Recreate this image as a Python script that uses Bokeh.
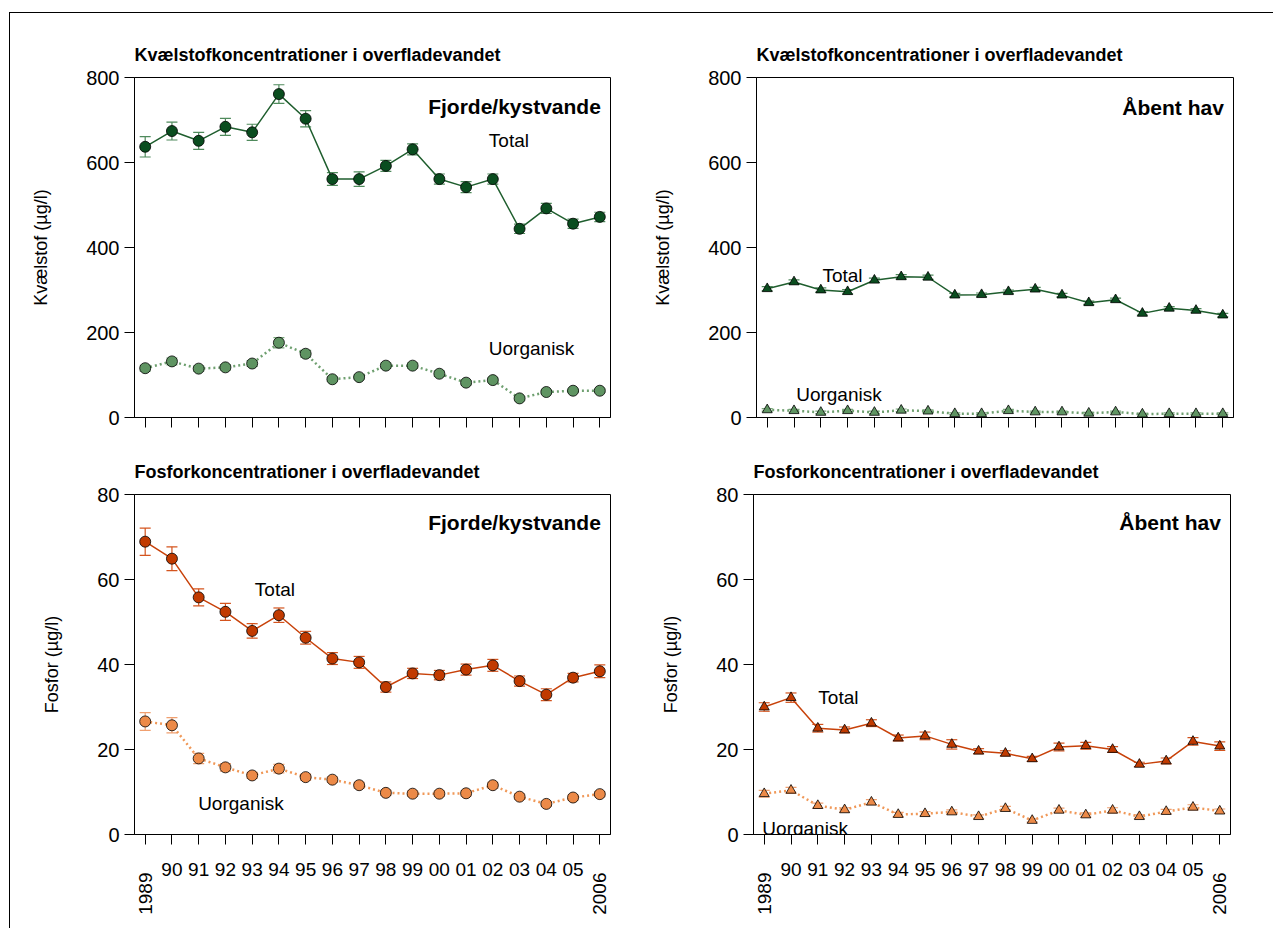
import math
from bokeh.plotting import figure
from bokeh.models import ColumnDataSource, Range1d, FixedTicker, Whisker, TeeHead, Label
from bokeh.core.properties import value
from bokeh.layouts import column, row
from bokeh.embed import file_html
from bokeh.resources import INLINE

# ---------------- data ----------------
years = list(range(1989, 2007))
x_tick_labels = ["1989", "90", "91", "92", "93", "94", "95", "96", "97", "98", "99",
                 "00", "01", "02", "03", "04", "05", "2006"]
n_ticks = [0, 200, 400, 600, 800]
p_ticks = [0, 20, 40, 60, 80]

# Kvaelstof, fjorde/kystvande
n_fjord_total = [637, 674, 651, 684, 671, 761, 703, 561, 561, 592, 631, 561, 542, 561, 444, 492, 456, 472]
n_fjord_total_err = [24, 21, 20, 20, 19, 22, 19, 15, 17, 13, 13, 12, 13, 12, 11, 12, 11, 11]
n_fjord_uorg = [116, 132, 115, 118, 127, 176, 150, 90, 95, 122, 122, 103, 82, 88, 45, 60, 63, 63]
n_fjord_uorg_err = [7, 8, 6, 6, 7, 12, 8, 5, 5, 6, 6, 6, 5, 5, 4, 4, 4, 4]

# Kvaelstof, aabent hav
n_open_total = [303, 319, 300, 296, 323, 331, 330, 288, 289, 296, 302, 288, 270, 277, 245, 257, 252, 241]
n_open_total_err = [5, 5, 5, 5, 5, 5, 5, 4, 4, 4, 4, 4, 4, 4, 4, 4, 4, 4]
n_open_uorg = [18, 16, 12, 16, 12, 17, 15, 9, 9, 16, 13, 13, 10, 13, 8, 9, 9, 9]
n_open_uorg_err = [3, 3, 3, 3, 3, 3, 3, 2, 2, 3, 2, 2, 2, 2, 2, 2, 2, 2]

# Fosfor, fjorde/kystvande
p_fjord_total = [68.9, 64.9, 55.8, 52.4, 47.9, 51.6, 46.3, 41.4, 40.5, 34.7, 37.9, 37.5, 38.8, 39.8, 36.1, 32.9, 36.9, 38.4]
p_fjord_total_err = [3.2, 2.8, 2.0, 2.0, 1.7, 1.7, 1.5, 1.4, 1.4, 1.2, 1.2, 1.1, 1.3, 1.4, 1.2, 1.4, 1.0, 1.5]
p_fjord_uorg = [26.6, 25.7, 17.9, 15.8, 13.9, 15.5, 13.5, 12.9, 11.6, 9.8, 9.6, 9.6, 9.7, 11.6, 8.9, 7.2, 8.7, 9.5]
p_fjord_uorg_err = [2.1, 1.8, 1.2, 0.9, 0.7, 1.0, 0.7, 0.6, 0.7, 0.6, 0.6, 0.6, 0.6, 0.7, 0.6, 0.5, 0.6, 0.6]

# Fosfor, aabent hav
p_open_total = [30.0, 32.2, 25.0, 24.6, 26.2, 22.7, 23.2, 21.2, 19.6, 19.1, 17.8, 20.6, 20.9, 20.0, 16.5, 17.3, 21.9, 20.8]
p_open_total_err = [1.0, 1.1, 0.9, 0.7, 0.8, 0.7, 0.9, 1.1, 0.6, 0.6, 0.6, 0.9, 0.8, 0.7, 0.5, 0.7, 0.9, 1.0]
p_open_uorg = [9.6, 10.4, 6.8, 5.8, 7.6, 4.7, 4.9, 5.3, 4.2, 6.1, 3.3, 5.7, 4.6, 5.7, 4.2, 5.4, 6.4, 5.5]
p_open_uorg_err = [0.8, 0.7, 0.6, 0.5, 0.6, 0.5, 0.5, 0.5, 0.4, 0.5, 0.4, 0.5, 0.5, 0.6, 0.4, 0.5, 0.6, 0.5]

# ---------------- styles ----------------
FONT = "Liberation Sans"
N_TOT = dict(fill="#0a4d1f", line="#1f5e2e", err="#4f8a5c", dash="solid", lw=1.5)
N_UOR = dict(fill="#5f9462", line="#6fa070", err="#7aa87c", dash="2 3", lw=2.5)
P_TOT = dict(fill="#c13a00", line="#c8420a", err="#d4541e", dash="solid", lw=1.5)
P_UOR = dict(fill="#ec8a48", line="#f09858", err="#f0a070", dash="2 3", lw=2.5)
X_RANGE = (1988.6, 2006.4)


def panel(title, ylabel, ymax, yticks, series, marker, texts, region, region_y, mb, fw):
    p = figure(frame_width=fw, frame_height=340,
               x_range=Range1d(*X_RANGE), y_range=Range1d(0, ymax),
               output_backend="svg", toolbar_location=None,
               min_border_left=mb[0], min_border_right=mb[1],
               min_border_top=mb[2], min_border_bottom=mb[3],
               background_fill_color="white", border_fill_color="white")
    p.title.text = title
    p.title.text_font = FONT
    p.title.text_font_size = "18px"
    p.title.text_font_style = "bold"
    p.title.text_color = "black"
    p.title.align = "left"
    p.title.standoff = 26
    p.xgrid.visible = False
    p.ygrid.visible = False
    p.outline_line_color = "black"
    p.outline_line_width = 1
    p.outline_line_alpha = 1

    p.xaxis.ticker = FixedTicker(ticks=years)
    p.yaxis.ticker = FixedTicker(ticks=yticks)
    for ax in (p.xaxis[0], p.yaxis[0]):
        ax.major_tick_out = 10
        ax.major_tick_in = 0
        ax.minor_tick_out = 0
        ax.minor_tick_in = 0
        ax.axis_line_color = "black"
        ax.major_tick_line_color = "black"
        ax.major_label_text_font = FONT
        ax.major_label_text_color = "black"
    p.yaxis.major_label_text_font_size = "20px"
    p.yaxis.major_label_standoff = 5
    p.yaxis.axis_label = ylabel
    p.yaxis.axis_label_text_font = FONT
    p.yaxis.axis_label_text_font_size = "18px"
    p.yaxis.axis_label_text_font_style = "normal"
    p.yaxis.axis_label_text_color = "black"
    p.yaxis.axis_label_standoff = 32
    # tick labels of the x axis are drawn in a separate strip (mixed orientation)
    p.xaxis.major_label_overrides = {y: "" for y in years}
    p.xaxis.major_label_text_font_size = "0px"
    p.xaxis.major_label_standoff = 0

    for vals, errs, st in series:
        src = ColumnDataSource(dict(x=years, y=vals,
                                    upper=[v + e for v, e in zip(vals, errs)],
                                    lower=[v - e for v, e in zip(vals, errs)]))
        w = Whisker(source=src, base="x", upper="upper", lower="lower",
                    line_color=st["err"], line_width=1.2,
                    upper_head=TeeHead(size=11, line_color=st["err"], line_width=1.2),
                    lower_head=TeeHead(size=11, line_color=st["err"], line_width=1.2))
        p.add_layout(w)
        p.line("x", "y", source=src, line_color=st["line"], line_width=st["lw"],
               line_dash=st["dash"])
        p.scatter("x", "y", source=src, marker=marker, size=11 if marker == "circle" else 10,
                  fill_color=st["fill"], line_color="black", line_width=0.8)

    for tx, x, y in texts:
        p.add_layout(Label(x=x, y=y, text=tx, text_font=FONT, text_font_size="19px",
                           text_align="left", text_baseline="middle", text_color="black"))
    p.add_layout(Label(x=2006.04, y=region_y, text=region, text_font=FONT,
                       text_font_size="21px", text_font_style="bold",
                       text_align="right", text_baseline="middle", text_color="black"))
    return p


def tick_strip(mb_left, mb_right, fw):
    f = figure(frame_width=fw, frame_height=82,
               x_range=Range1d(*X_RANGE), y_range=Range1d(0, 82),
               x_axis_type=None, y_axis_type=None,
               output_backend="svg", toolbar_location=None,
               min_border_left=mb_left, min_border_right=mb_right,
               min_border_top=0, min_border_bottom=0,
               background_fill_color="white", border_fill_color="white")
    f.outline_line_color = None
    mid_x = years[1:-1]
    f.text(x=mid_x, y=[65.6] * len(mid_x), text=x_tick_labels[1:-1],
           text_font=value(FONT), text_font_size="19px", text_color="black",
           text_align="center", text_baseline="top")
    f.text(x=[years[0], years[-1]], y=[56, 56], text=[x_tick_labels[0], x_tick_labels[-1]],
           angle=math.pi / 2, text_font=value(FONT), text_font_size="19px", text_color="black",
           text_align="right", text_baseline="middle")
    return f


p1 = panel("Kvælstofkoncentrationer i overfladevandet", "Kvælstof (µg/l)", 800, n_ticks,
           [(n_fjord_total, n_fjord_total_err, N_TOT), (n_fjord_uorg, n_fjord_uorg_err, N_UOR)],
           "circle", [("Total", 2001.85, 652), ("Uorganisk", 2001.85, 162)],
           "Fjorde/kystvande", 732, (124, 40, 64, 27), 476)
p2 = panel("Kvælstofkoncentrationer i overfladevandet", "Kvælstof (µg/l)", 800, n_ticks,
           [(n_open_total, n_open_total_err, N_TOT), (n_open_uorg, n_open_uorg_err, N_UOR)],
           "triangle", [("Total", 1991.06, 335), ("Uorganisk", 1990.08, 54)],
           "Åbent hav", 730, (103, 41, 64, 27), 477)
p3 = panel("Fosforkoncentrationer i overfladevandet", "Fosfor (µg/l)", 80, p_ticks,
           [(p_fjord_total, p_fjord_total_err, P_TOT), (p_fjord_uorg, p_fjord_uorg_err, P_UOR)],
           "circle", [("Total", 1993.1, 57.6), ("Uorganisk", 1990.98, 7.3)],
           "Fjorde/kystvande", 73.4, (124, 40, 50, 12), 476)
p4 = panel("Fosforkoncentrationer i overfladevandet", "Fosfor (µg/l)", 80, p_ticks,
           [(p_open_total, p_open_total_err, P_TOT), (p_open_uorg, p_open_uorg_err, P_UOR)],
           "triangle", [("Total", 1991.02, 32.3), ("Uorganisk", 1988.93, 1.4)],
           "Åbent hav", 73.4, (103, 41, 50, 12), 477)
s3 = tick_strip(124, 40, 476)
s4 = tick_strip(103, 41, 477)

layout = column(row(p1, p2), row(p3, p4), row(s3, s4),
                styles={"border-left": "1px solid black", "border-top": "1px solid black",
                        "border-right": "1px solid black",
                        "margin-left": "9px", "margin-top": "12px"})

open("out.html", "w").write(file_html(layout, INLINE))
